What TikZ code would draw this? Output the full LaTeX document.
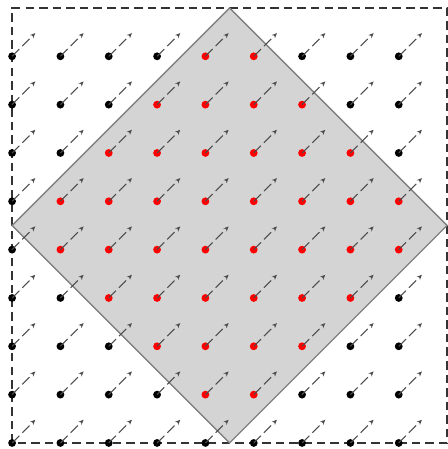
\documentclass[tikz,border=0pt]{standalone}
\usetikzlibrary{arrows.meta}
\begin{document}
\begin{tikzpicture}[x=1cm,y=1cm,
  frame/.style={draw=black!80,line width=0.9pt,dash pattern=on 5pt off 3pt},
  region/.style={draw=black!50,fill=black!17,line width=0.8pt},
  outdot/.style={circle,fill=black,inner sep=0pt,minimum size=4.6pt},
  indot/.style={circle,fill=red,inner sep=0pt,minimum size=4.6pt},
  vec/.style={draw=black!70,line width=0.6pt,dash pattern=on 6pt off 2.5pt,-{Stealth[length=3pt,width=2.6pt]}}]
\useasboundingbox (-0.25,-0.125) rectangle (9.0,9.165);
\draw[frame] (0,0) rectangle (9,9);
\coordinate (T) at (4.5,9);
\coordinate (L) at (0,4.5);
\coordinate (B) at (4.5,0);
\coordinate (R) at (9,4.5);
\draw[region] (T) -- (L) -- (B) -- (R) -- cycle;
\foreach \i in {0,...,8}{
  \foreach \j in {0,...,8}{
    \pgfmathsetmacro{\d}{abs(\i-4.5)+abs(\j-4.5)}
    \ifdim\d pt<4.5pt
      \node[indot] (p\i\j) at (\i,\j) {};
    \else
      \node[outdot] (p\i\j) at (\i,\j) {};
    \fi
    \coordinate (q\i\j) at (\i+0.48,\j+0.48);
    \draw[vec] (p\i\j.center) -- (q\i\j);
  }
}
\end{tikzpicture}
\end{document}
